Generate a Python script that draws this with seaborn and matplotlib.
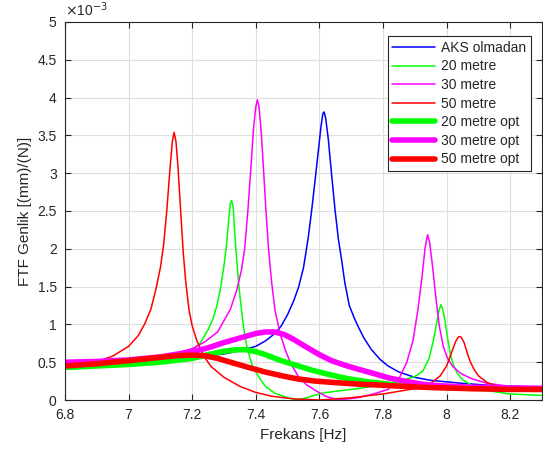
import matplotlib
matplotlib.use('Agg')
import matplotlib.pyplot as plt
import pandas as pd
import seaborn as sns

# frequency [Hz] and FRF amplitude [x1e-3 mm/N]
blue_x = [6.8, 6.9, 7.0, 7.1, 7.2, 7.3, 7.35, 7.4, 7.43, 7.46, 7.48, 7.5,
          7.52, 7.535, 7.55, 7.565, 7.576, 7.587, 7.597, 7.605, 7.611, 7.615,
          7.62, 7.628, 7.638, 7.649, 7.66, 7.67, 7.68, 7.694, 7.71, 7.722,
          7.74, 7.763, 7.79, 7.816, 7.85, 7.9, 7.95, 8.05, 8.15, 8.3]
blue_y = [0.44, 0.46, 0.48, 0.51, 0.55, 0.61, 0.65, 0.71, 0.78, 0.88, 0.98,
          1.13, 1.32, 1.5, 1.75, 2.15, 2.52, 2.93, 3.31, 3.62, 3.79, 3.81,
          3.72, 3.45, 3.0, 2.52, 2.12, 1.85, 1.55, 1.25, 1.08, 0.97, 0.82,
          0.67, 0.54, 0.45, 0.37, 0.3, 0.26, 0.22, 0.19, 0.17]

g20_x = [6.8, 6.9, 7.0, 7.1, 7.15, 7.2, 7.225, 7.25, 7.265, 7.278, 7.29,
         7.3, 7.308, 7.315, 7.32, 7.324, 7.329, 7.334, 7.34, 7.347, 7.355,
         7.362, 7.37, 7.38, 7.39, 7.41, 7.43, 7.46, 7.5, 7.53, 7.56, 7.607,
         7.66, 7.72, 7.795, 7.86, 7.9, 7.925, 7.945, 7.958, 7.968, 7.976,
         7.982, 7.988, 7.995, 8.003, 8.012, 8.022, 8.034, 8.05, 8.076, 8.11,
         8.15, 8.2, 8.3]
g20_y = [0.42, 0.44, 0.47, 0.52, 0.57, 0.66, 0.75, 0.93, 1.07, 1.25, 1.5,
         1.78, 2.05, 2.4, 2.6, 2.64, 2.55, 2.2, 1.85, 1.5, 1.19, 0.95, 0.75,
         0.58, 0.44, 0.3, 0.18, 0.09, 0.03, 0.0, 0.03, 0.09, 0.12, 0.15, 0.2,
         0.26, 0.31, 0.38, 0.55, 0.78, 1.0, 1.18, 1.26, 1.2, 1.05, 0.82, 0.6,
         0.46, 0.35, 0.27, 0.2, 0.14, 0.11, 0.08, 0.06]

m30_x = [6.8, 6.9, 7.0, 7.1, 7.15, 7.2, 7.24, 7.28, 7.3, 7.32, 7.34, 7.355,
         7.365, 7.375, 7.385, 7.393, 7.4, 7.405, 7.41, 7.417, 7.425, 7.432,
         7.44, 7.45, 7.46, 7.475, 7.493, 7.51, 7.534, 7.56, 7.59, 7.62, 7.66,
         7.72, 7.77, 7.816, 7.85, 7.875, 7.895, 7.91, 7.922, 7.932, 7.94,
         7.946, 7.955, 7.965, 7.977, 7.99, 8.003, 8.02, 8.045, 8.08, 8.128,
         8.2, 8.3]
m30_y = [0.48, 0.5, 0.53, 0.58, 0.62, 0.68, 0.77, 0.9, 1.05, 1.2, 1.45,
         1.72, 2.0, 2.5, 3.1, 3.6, 3.88, 3.97, 3.88, 3.55, 3.0, 2.5, 2.0,
         1.55, 1.2, 0.9, 0.66, 0.48, 0.31, 0.2, 0.12, 0.05, 0.0, 0.03, 0.08,
         0.14, 0.28, 0.5, 0.8, 1.2, 1.6, 2.0, 2.185, 2.1, 1.8, 1.4, 0.98, 0.7,
         0.55, 0.44, 0.35, 0.28, 0.22, 0.18, 0.155]

r50_x = [6.8, 6.85, 6.9, 6.95, 7.0, 7.03, 7.05, 7.07, 7.085, 7.1, 7.11,
         7.12, 7.13, 7.137, 7.143, 7.149, 7.155, 7.163, 7.172, 7.18, 7.19,
         7.2, 7.215, 7.238, 7.26, 7.3, 7.35, 7.4, 7.45, 7.52, 7.6, 7.7, 7.8,
         7.9, 7.95, 7.98, 8.0, 8.015, 8.028, 8.036, 8.04, 8.046, 8.055, 8.065,
         8.075, 8.087, 8.1, 8.128, 8.16, 8.2, 8.25, 8.3]
r50_y = [0.45, 0.47, 0.51, 0.58, 0.71, 0.85, 1.0, 1.2, 1.45, 1.75, 2.05,
         2.5, 3.05, 3.4, 3.54, 3.42, 3.1, 2.55, 1.94, 1.55, 1.19, 0.98, 0.78,
         0.57, 0.44, 0.3, 0.18, 0.1, 0.05, 0.015, 0.0, 0.03, 0.08, 0.15, 0.22,
         0.32, 0.45, 0.62, 0.77, 0.83, 0.84, 0.83, 0.76, 0.62, 0.5, 0.4, 0.32,
         0.23, 0.18, 0.155, 0.14, 0.13]

g20opt_x = [6.8, 6.9, 7.0, 7.1, 7.2, 7.25, 7.3, 7.34, 7.37, 7.4, 7.43, 7.48,
            7.534, 7.58, 7.638, 7.68, 7.722, 7.763, 7.82, 7.868, 7.95, 8.076,
            8.2, 8.3]
g20opt_y = [0.43, 0.45, 0.47, 0.5, 0.55, 0.6, 0.645, 0.665, 0.665, 0.64,
            0.6, 0.52, 0.45, 0.39, 0.33, 0.29, 0.26, 0.235, 0.21, 0.19, 0.17,
            0.155, 0.145, 0.14]

m30opt_x = [6.8, 6.9, 7.0, 7.1, 7.2, 7.25, 7.3, 7.35, 7.4, 7.43, 7.46, 7.49,
            7.52, 7.555, 7.6, 7.638, 7.68, 7.72, 7.763, 7.82, 7.868, 7.92,
            7.972, 8.076, 8.2, 8.3]
m30opt_y = [0.5, 0.51, 0.53, 0.57, 0.64, 0.69, 0.76, 0.82, 0.88, 0.9, 0.9,
            0.865, 0.8, 0.71, 0.6, 0.52, 0.46, 0.41, 0.36, 0.29, 0.25, 0.21,
            0.19, 0.17, 0.16, 0.155]

r50opt_x = [6.8, 6.9, 7.0, 7.1, 7.15, 7.2, 7.24, 7.28, 7.32, 7.378, 7.43,
            7.482, 7.53, 7.587, 7.65, 7.722, 7.8, 7.868, 7.95, 8.076, 8.2, 8.3]
r50opt_y = [0.45, 0.48, 0.52, 0.565, 0.585, 0.595, 0.585, 0.55, 0.5, 0.43,
            0.37, 0.32, 0.28, 0.25, 0.23, 0.21, 0.195, 0.18, 0.165, 0.15,
            0.14, 0.14]

series = [
    ('AKS olmadan', blue_x, blue_y, '#0000ff', 1.1),
    ('20 metre', g20_x, g20_y, '#00ff00', 1.1),
    ('30 metre', m30_x, m30_y, '#ff00ff', 1.1),
    ('50 metre', r50_x, r50_y, '#ff0000', 1.1),
    ('20 metre opt', g20opt_x, g20opt_y, '#00ff00', 4.0),
    ('30 metre opt', m30opt_x, m30opt_y, '#ff00ff', 4.0),
    ('50 metre opt', r50opt_x, r50opt_y, '#ff0000', 4.0),
]

sns.set_theme(style='ticks')
plt.rcParams['font.family'] = ['Liberation Sans', 'DejaVu Sans']

fig = plt.figure(figsize=(5.43, 4.53), dpi=100)
ax = fig.add_axes([65 / 543, 53 / 453, 477 / 543, 378 / 453])

for name, xs, ys, col, lw in series:
    df = pd.DataFrame({'f': xs, 'a': ys})
    sns.lineplot(data=df, x='f', y='a', color=col, lw=lw, label=name,
                 ax=ax, estimator=None, sort=False)

ax.set_xlim(6.8, 8.3)
ax.set_ylim(0, 5)
ax.set_xticks([6.8, 7, 7.2, 7.4, 7.6, 7.8, 8, 8.2])
ax.set_xticklabels(['6.8', '7', '7.2', '7.4', '7.6', '7.8', '8', '8.2'])
ax.set_yticks([0, 0.5, 1, 1.5, 2, 2.5, 3, 3.5, 4, 4.5, 5])
ax.set_yticklabels(['0', '0.5', '1', '1.5', '2', '2.5', '3', '3.5', '4',
                    '4.5', '5'])
ax.grid(True, color='#dedede', lw=0.8)
ax.set_axisbelow(True)
ax.tick_params(direction='in', length=4, width=0.8, top=True, right=True,
               labelsize=10, colors='#262626', pad=6)
for s in ax.spines.values():
    s.set_color('#262626')
    s.set_linewidth(0.8)

ax.set_xlabel('Frekans [Hz]', fontsize=11, color='#262626')
ax.set_ylabel('FTF Genlik [(mm)/(N)]', fontsize=11, color='#262626')
ax.text(0.0, 1.008, r'$\times$10$^{-3}$', transform=ax.transAxes,
        fontsize=10, color='#262626', va='bottom', ha='left')

leg = ax.legend(loc='upper right', fancybox=False, framealpha=1,
                edgecolor='#262626', fontsize=10, handlelength=3.1,
                handletextpad=0.4, labelspacing=0.33, borderpad=0.35,
                borderaxespad=0)
leg.get_frame().set_linewidth(0.8)
leg.set_bbox_to_anchor((531 / 543, 1 - 36 / 453), transform=fig.transFigure)

fig.savefig('out.png', dpi=100)
